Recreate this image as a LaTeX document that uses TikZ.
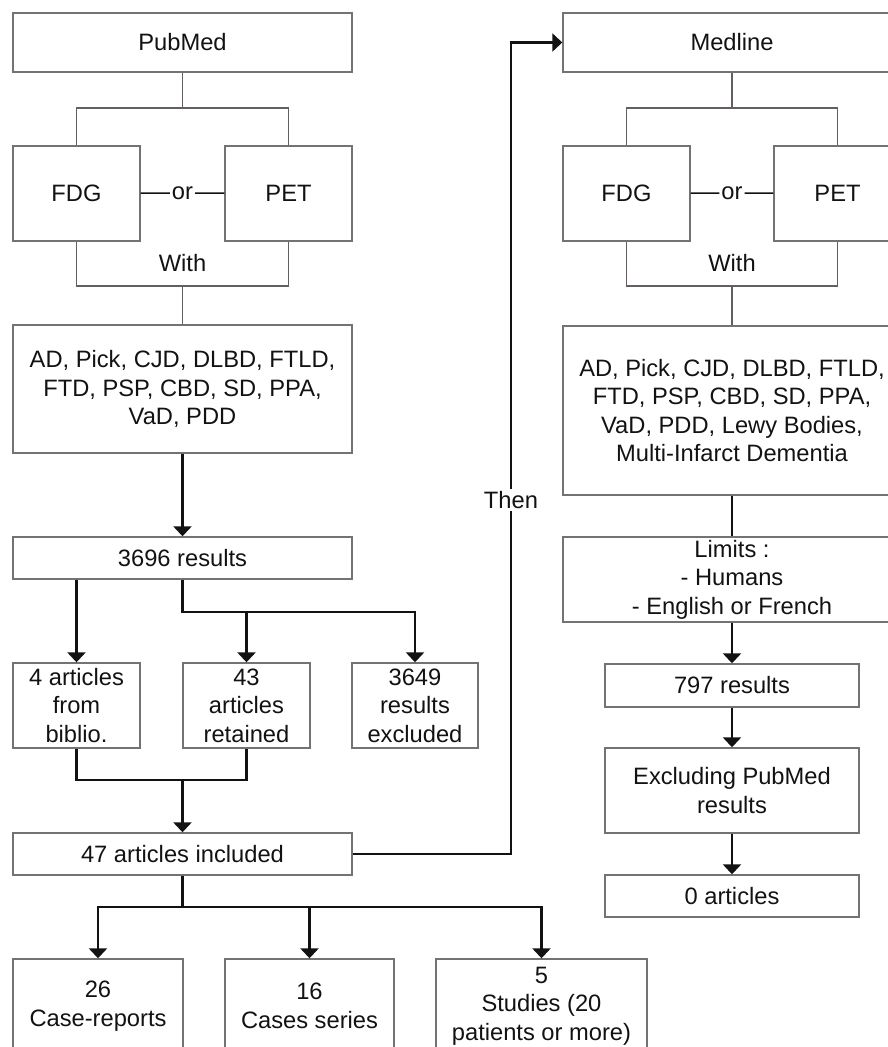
\documentclass[tikz,border=0pt]{standalone}
\usepackage{fontspec}
\setmainfont{Liberation Sans}
\usetikzlibrary{arrows.meta}
\definecolor{boxgray}{RGB}{115,115,115}
\definecolor{linkgray}{RGB}{100,95,92}
\definecolor{inkblack}{RGB}{18,18,18}
\tikzset{
  box/.style={draw=boxgray,line width=1.4pt,inner sep=0pt,align=center,text=inkblack},
  thinlink/.style={draw=linkgray,line width=1.4pt},
  orlink/.style={draw=inkblack,line width=1.6pt},
  flow/.style={draw=inkblack,line width=2.6pt},
  flowarr/.style={flow,-{Triangle[width=18pt,length=10pt]}},
  lbl/.style={inner sep=2pt,text=inkblack}
}
\begin{document}
\begin{tikzpicture}[x=1pt,y=-1pt,font=\fontsize{23.7}{28.5}\selectfont]
\useasboundingbox (0,0) rectangle (888,1047);
\clip (0,0) rectangle (888,1047);
% PubMed column
\node[box,minimum width=339pt,minimum height=59pt] (pubmed) at (182.5,42.5) {PubMed};
\node[box,minimum width=127pt,minimum height=95pt] (fdgL) at (76.5,193.5) {FDG};
\node[box,minimum width=127pt,minimum height=95pt] (petL) at (288.5,193.5) {PET};
\node[lbl] (orL) at (182.5,193) {or};
\node[lbl] (withL) at (182.5,263) {With};
\node[box,minimum width=339pt,minimum height=128pt] (disL) at (182.5,389)
  {AD, Pick, CJD, DLBD, FTLD,\\FTD, PSP, CBD, SD, PPA,\\VaD, PDD};
\node[box,minimum width=339pt,minimum height=42pt] (res3696) at (182.5,558) {3696 results};
\node[box,minimum width=127pt,minimum height=85pt] (biblio) at (76.5,705.5) {4 articles\\from\\biblio.};
\node[box,minimum width=127pt,minimum height=85pt] (retained) at (246.5,705.5) {43\\articles\\retained};
\node[box,minimum width=126pt,minimum height=85pt] (excluded) at (415,705.5) {3649\\results\\excluded};
\node[box,minimum width=339pt,minimum height=42pt] (included) at (182.5,854) {47 articles included};
\node[box,minimum width=170pt,minimum height=94pt] (caserep) at (98,1006) {26\\Case-reports};
\node[box,minimum width=169pt,minimum height=94pt] (caseser) at (309.5,1006) {16\\Cases series};
\node[box,minimum width=211pt,minimum height=94pt] (studies) at (541.5,1006) {5\\Studies (20\\patients or more)};
% Medline column
\node[box,minimum width=338pt,minimum height=59pt] (medline) at (732,42.5) {Medline};
\node[box,minimum width=127pt,minimum height=95pt] (fdgR) at (626.5,193.5) {FDG};
\node[box,minimum width=127pt,minimum height=95pt] (petR) at (837.5,193.5) {PET};
\node[lbl] (orR) at (732,193) {or};
\node[lbl] (withR) at (732,263) {With};
\node[box,minimum width=338pt,minimum height=169pt] (disR) at (732,410.5)
  {AD, Pick, CJD, DLBD, FTLD,\\FTD, PSP, CBD, SD, PPA,\\VaD, PDD, Lewy Bodies,\\Multi-Infarct Dementia};
\node[box,minimum width=338pt,minimum height=85pt] (limits) at (732,579.5) {Limits :\\- Humans\\- English or French};
\node[box,minimum width=254pt,minimum height=43pt] (res797) at (732,685.5) {797 results};
\node[box,minimum width=254pt,minimum height=85pt] (exclpub) at (732,790.5) {Excluding PubMed\\results};
\node[box,minimum width=254pt,minimum height=42pt] (zero) at (732,896) {0 articles};
% joints
\coordinate (jL) at (182.5,108);
\coordinate (wL) at (182.5,286);
\coordinate (jR) at (732,108);
\coordinate (wR) at (732,286);
\coordinate (k1) at (182.5,612);
\coordinate (k2) at (182.5,780);
\coordinate (k3) at (182.5,907);
\coordinate (tc) at (511,42.5);
% thin links
\draw[thinlink] (pubmed) -- (jL) (fdgL.north) |- (jL) -| (petL.north);
\draw[thinlink] (fdgL.south) |- (wL) -| (petL.south) (wL) -- (disL);
\draw[orlink] (fdgL) -- (orL) (orL) -- (petL);
\draw[thinlink] (medline) -- (jR) (fdgR.north) |- (jR) -| (petR.north);
\draw[thinlink] (fdgR.south) |- (wR) -| (petR.south) (wR) -- (disR);
\draw[orlink] (fdgR) -- (orR) (orR) -- (petR);
% flow arrows
\draw[flowarr] (disL) -- (res3696);
\draw[flowarr] (biblio.north |- res3696.south) -- (biblio.north);
\draw[flowarr] (res3696.south) -- (k1) -| (excluded.north);
\draw[flowarr] (retained.north |- k1) -- (retained.north);
\draw[flow] (biblio.south) |- (k2) -| (retained.south);
\draw[flowarr] (k2) -- (included);
\draw[flow] (included) -- (k3);
\draw[flowarr] (k3) -| (caserep.north);
\draw[flowarr] (k3) -| (studies.north);
\draw[flowarr] (caseser.north |- k3) -- (caseser.north);
\draw[flowarr] (included.east) -| (tc) -- (medline.west);
\node[lbl,fill=white] (then) at (511,500) {Then};
\draw[flow] (disR) -- (limits);
\draw[flowarr] (limits) -- (res797);
\draw[flowarr] (res797) -- (exclpub);
\draw[flowarr] (exclpub) -- (zero);
\end{tikzpicture}
\end{document}
